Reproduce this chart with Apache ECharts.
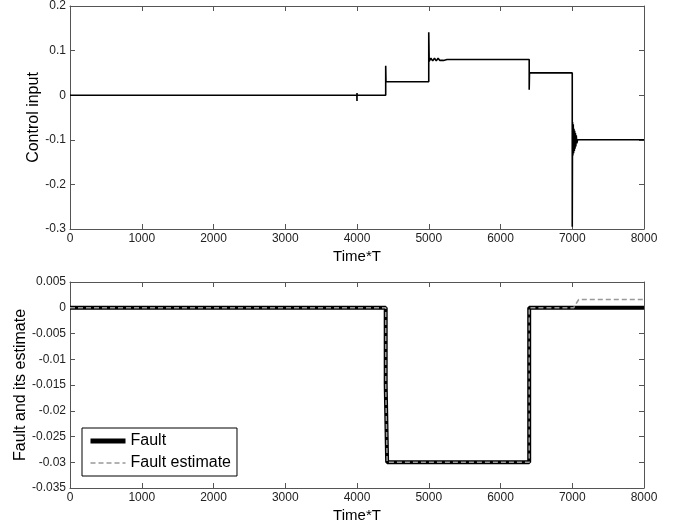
<!DOCTYPE html>
<html>
<head>
<meta charset="utf-8">
<script src="https://cdn.jsdelivr.net/npm/echarts@6/dist/echarts.min.js"></script>
<style>
html,body{margin:0;padding:0;background:#fff;}
#c{width:684px;height:529px;}
</style>
</head>
<body>
<div id="c"></div>
<script>
// ---- data ----
var xTicks = [0, 1000, 2000, 3000, 4000, 5000, 6000, 7000, 8000];
var controlTicks = [-0.3, -0.2, -0.1, 0, 0.1, 0.2];
var faultTicks = [-0.035, -0.03, -0.025, -0.02, -0.015, -0.01, -0.005, 0, 0.005];

var controlTime  = [0, 3998, 4000, 4000, 4002, 4400, 4400, 4404, 5000, 5000, 5006, 5030, 5055, 5080, 5105, 5130, 5155, 5180, 5205, 5230, 5255, 6400, 6400, 6404, 7000, 7000, 7004, 7009, 7014, 7019, 7024, 7029, 7034, 7039, 7044, 7050, 7056, 7064, 7075, 8000];
var controlValue = [0, 0, -0.013, 0.005, 0, 0, 0.066, 0.03, 0.03, 0.141, 0.076, 0.083, 0.077, 0.083, 0.077, 0.083, 0.078, 0.082, 0.078, 0.082, 0.08, 0.08, 0.012, 0.05, 0.05, -0.295, -0.06, -0.135, -0.065, -0.13, -0.075, -0.125, -0.08, -0.12, -0.085, -0.115, -0.09, -0.108, -0.1, -0.1];

var faultTime  = [0, 4400, 4400, 4420, 4420, 6400, 6400, 8000];
var faultValue = [0, 0, -0.015, -0.015, -0.03, -0.03, 0, 0];

var estTime  = [0, 4400, 4400, 4420, 4420, 6400, 6400, 7020, 7090, 8000];
var estValue = [0, 0, -0.015, -0.015, -0.03, -0.03, 0, 0, 0.0016, 0.0016];

function pairs(t, v) { return t.map(function (x, i) { return [x, v[i]]; }); }

var FONT = 'Liberation Sans';
var axisCol = '#555';

function xAxisDef(grid, pos, withLabels) {
  return {
    type: 'value', gridIndex: grid, position: pos,
    min: xTicks[0], max: xTicks[xTicks.length - 1], interval: xTicks[1] - xTicks[0],
    axisLine: { show: true, onZero: false, lineStyle: { color: axisCol, width: 1 } },
    axisTick: { show: true, inside: true, length: 5, lineStyle: { color: axisCol } },
    axisLabel: { show: withLabels, margin: 4, fontFamily: FONT, fontSize: 12, color: '#222',
      formatter: function (v) { return String(Math.round(v)); } },
    splitLine: { show: false },
    name: withLabels ? 'Time*T' : '', nameLocation: 'middle', nameGap: 20,
    nameMoveOverlap: false,
    nameTextStyle: { fontFamily: FONT, fontSize: 15, color: '#000' }
  };
}
function yAxisDef(grid, pos, ticks, withLabels, name, gap) {
  return {
    type: 'value', gridIndex: grid, position: pos,
    min: ticks[0], max: ticks[ticks.length - 1], interval: +(ticks[1] - ticks[0]).toFixed(6),
    axisLine: { show: true, onZero: false, lineStyle: { color: axisCol, width: 1 } },
    axisTick: { show: true, inside: true, length: 5, lineStyle: { color: axisCol } },
    axisLabel: { show: withLabels, margin: 4, fontFamily: FONT, fontSize: 12, color: '#222',
      formatter: function (v) { return String(+v.toFixed(4)); } },
    splitLine: { show: false },
    name: withLabels ? name : '', nameLocation: 'middle', nameGap: gap,
    nameMoveOverlap: false,
    nameTextStyle: { fontFamily: FONT, fontSize: 16, color: '#000' }
  };
}

var chart = echarts.init(document.getElementById('c'), null, { renderer: 'canvas' });
chart.setOption({
  backgroundColor: '#fff',
  animation: false,
  grid: [
    { left: 70, top: 6, width: 574, height: 223 },
    { left: 70, top: 282, width: 574, height: 206 }
  ],
  xAxis: [
    xAxisDef(0, 'bottom', true), xAxisDef(0, 'top', false),
    xAxisDef(1, 'bottom', true), xAxisDef(1, 'top', false)
  ],
  yAxis: [
    yAxisDef(0, 'left', controlTicks, true, 'Control input', 28),
    yAxisDef(0, 'right', controlTicks, false, '', 0),
    yAxisDef(1, 'left', faultTicks, true, 'Fault and its estimate', 41),
    yAxisDef(1, 'right', faultTicks, false, '', 0)
  ],
  legend: {
    data: [
      { name: 'Fault', lineStyle: { width: 5 } },
      { name: 'Fault estimate', lineStyle: { width: 1.5 } }
    ],
    orient: 'vertical', left: 82, top: 428,
    itemWidth: 35, itemHeight: 14, itemGap: 6,
    padding: [5, 6, 5, 6],
    borderColor: '#000', borderWidth: 1, backgroundColor: '#fff',
    itemStyle: { opacity: 0 },
    textStyle: { fontFamily: FONT, fontSize: 16, color: '#000' }
  },
  series: [
    {
      type: 'line', xAxisIndex: 0, yAxisIndex: 0, data: pairs(controlTime, controlValue),
      symbol: 'none', lineStyle: { color: '#000', width: 1.6 }, silent: true
    },
    {
      name: 'Fault', type: 'line', xAxisIndex: 2, yAxisIndex: 2, data: pairs(faultTime, faultValue),
      symbol: 'none', lineStyle: { color: '#000', width: 4 }, itemStyle: { color: '#000' }
    },
    {
      name: 'Fault estimate', type: 'line', xAxisIndex: 2, yAxisIndex: 2, data: pairs(estTime, estValue),
      symbol: 'none', lineStyle: { color: '#999', width: 1.5, type: [5, 3] }, itemStyle: { color: '#999' }
    }
  ]
});
</script>
</body>
</html>
